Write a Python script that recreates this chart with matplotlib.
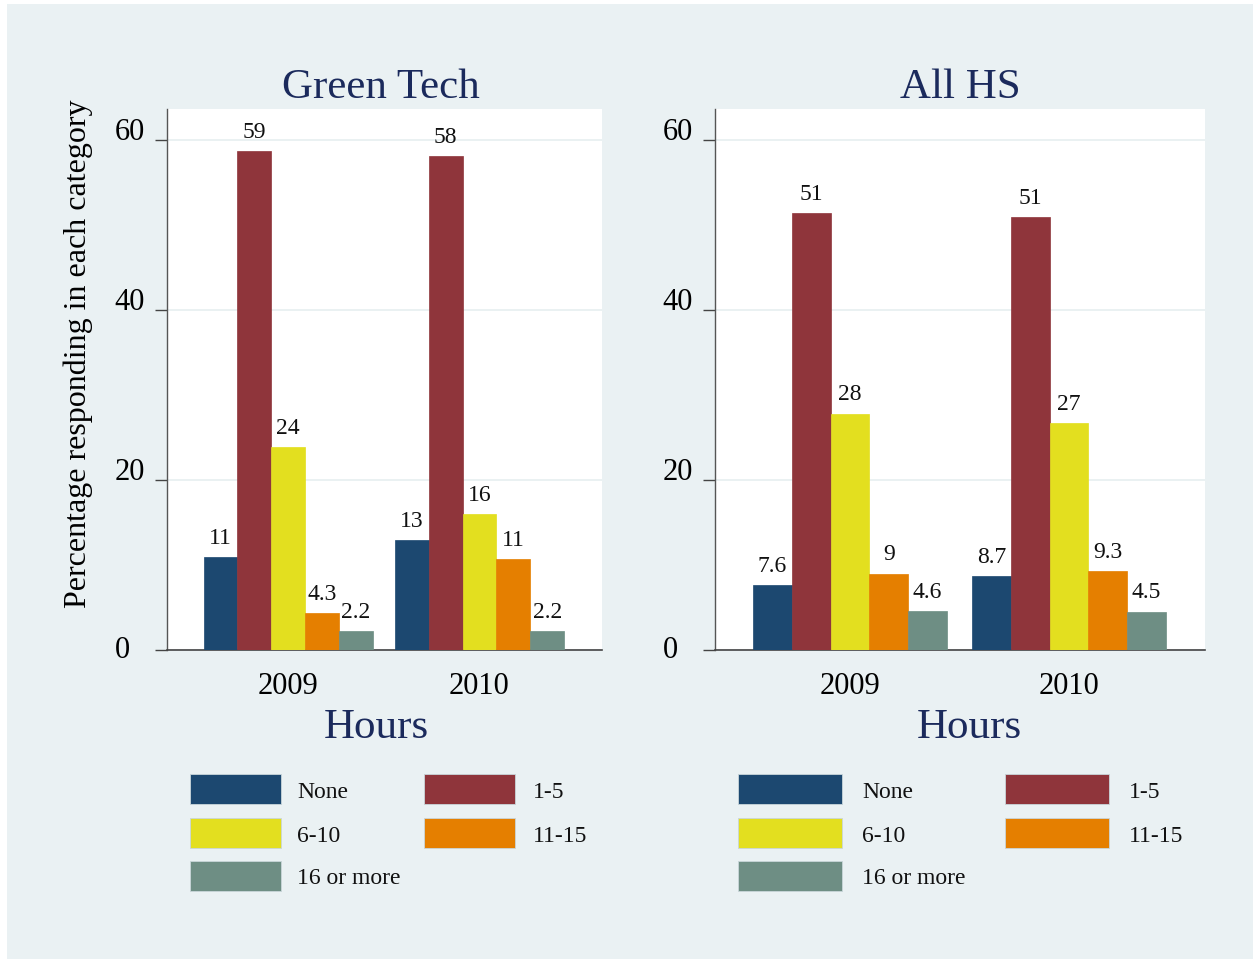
import matplotlib
matplotlib.use("Agg")
import matplotlib.pyplot as plt
import numpy as np
from matplotlib.patches import Rectangle

# data (percent responding)
categories = ["None", "1-5", "6-10", "11-15", "16 or more"]
years = ["2009", "2010"]
green_2009 = [10.9, 58.7, 23.9, 4.3, 2.2]
green_2010 = [12.9, 58.1, 16.0, 10.7, 2.2]
allhs_2009 = [7.6, 51.4, 27.8, 9.0, 4.6]
allhs_2010 = [8.7, 50.9, 26.7, 9.3, 4.5]
panel_titles = ["Green Tech", "All HS"]
yticks = [0, 20, 40, 60]

colors = ["#1c4870", "#8f353b", "#e3df1f", "#e57f00", "#6e8e84"]
bg = "#eaf1f3"
navy = "#1b2a5c"

W, H = 1253, 959
plt.rcParams['font.family'] = ['Liberation Serif', 'DejaVu Serif']

fig = plt.figure(figsize=(W / 100, H / 100), dpi=100)
fig.patch.set_facecolor("white")
fig.add_artist(Rectangle((7 / W, 0), 1 - 7 / W, 1 - 4 / H, transform=fig.transFigure,
                         facecolor=bg, edgecolor="none", zorder=-5))


def fx(x):
    return x / W


def fy(y):
    return 1 - y / H


def make_panel(left, right, xlim, v2009, v2010, title, title_x, hours_x):
    ax = fig.add_axes([fx(left), fy(650), fx(right) - fx(left), (650 - 109) / H])
    ax.set_facecolor("white")
    bw = 0.177
    pos = np.arange(len(years))
    for i, cat in enumerate(categories):
        vals = [v2009[i], v2010[i]]
        bars = ax.bar(pos + (i - 2) * bw, vals, width=bw, color=colors[i],
                      edgecolor=colors[i], linewidth=0.5, label=cat, zorder=3)
        ax.bar_label(bars, fmt="%.2g", padding=6, fontsize=17, color="#111111")
    ax.set_xlim(*xlim)
    ax.set_ylim(0, (650 - 109) / 8.5)
    ax.set_xticks(pos)
    ax.set_xticklabels(years, fontsize=22)
    ax.tick_params(axis="x", length=0, pad=15.5)
    ax.set_yticks(yticks)
    ax.set_yticklabels([str(t) for t in yticks], fontsize=22)
    # stata puts the y labels flush left, a bit away from the ticks
    ax.tick_params(axis="y", length=8.6, width=1.0, color="#444444", pad=29)
    for t, lbl in zip(yticks, ax.get_yticklabels()):
        lbl.set_horizontalalignment("left")
        lbl.set_verticalalignment("center" if t == 0 else "baseline")
    ax.yaxis.grid(True, color="#e6eff0", linewidth=1.2, zorder=0)
    ax.set_axisbelow(True)
    for s in ["top", "right"]:
        ax.spines[s].set_visible(False)
    ax.spines["left"].set_color("#555555")
    ax.spines["left"].set_linewidth(1.0)
    ax.spines["bottom"].set_color("#444444")
    ax.spines["bottom"].set_linewidth(1.2)
    fig.text(fx(title_x), fy(98), title, fontsize=31, color=navy,
             ha="center", va="baseline")
    fig.text(fx(hours_x), fy(738), "Hours", fontsize=31, color=navy,
             ha="center", va="baseline")
    return ax


ax1 = make_panel(167, 601.7, (-0.634, 1.639), green_2009, green_2010,
                 panel_titles[0], 381, 376)
ax2 = make_panel(715, 1205, (-0.616, 1.621), allhs_2009, allhs_2010,
                 panel_titles[1], 960, 969)

ax1.set_ylabel("Percentage responding in each category", fontsize=23)
ax1.yaxis.set_label_coords((78 - 167) / (601.7 - 167), (650 - 354) / 541)
ax1.yaxis.label.set_verticalalignment("center")


# legends, two columns, drawn under each panel
def draw_legend(key_x, key_w, text_x):
    rows_y = [774, 818, 861]
    for i, cat in enumerate(categories):
        r, c = divmod(i, 2)
        x0 = key_x[c]
        y0 = rows_y[r]
        fig.add_artist(Rectangle((fx(x0), fy(y0 + 30)), key_w / W, 30 / H,
                                 transform=fig.transFigure, facecolor=colors[i],
                                 edgecolor="#c9d6da", linewidth=0.6))
        fig.text(fx(text_x[c]), fy(y0 + 18), cat, fontsize=17, color="#111111",
                 ha="left", va="center")


draw_legend([190, 424], 91, [297, 533])
draw_legend([738, 1005], 104, [862, 1129])

fig.savefig("out.png", dpi=100, facecolor=fig.get_facecolor())
